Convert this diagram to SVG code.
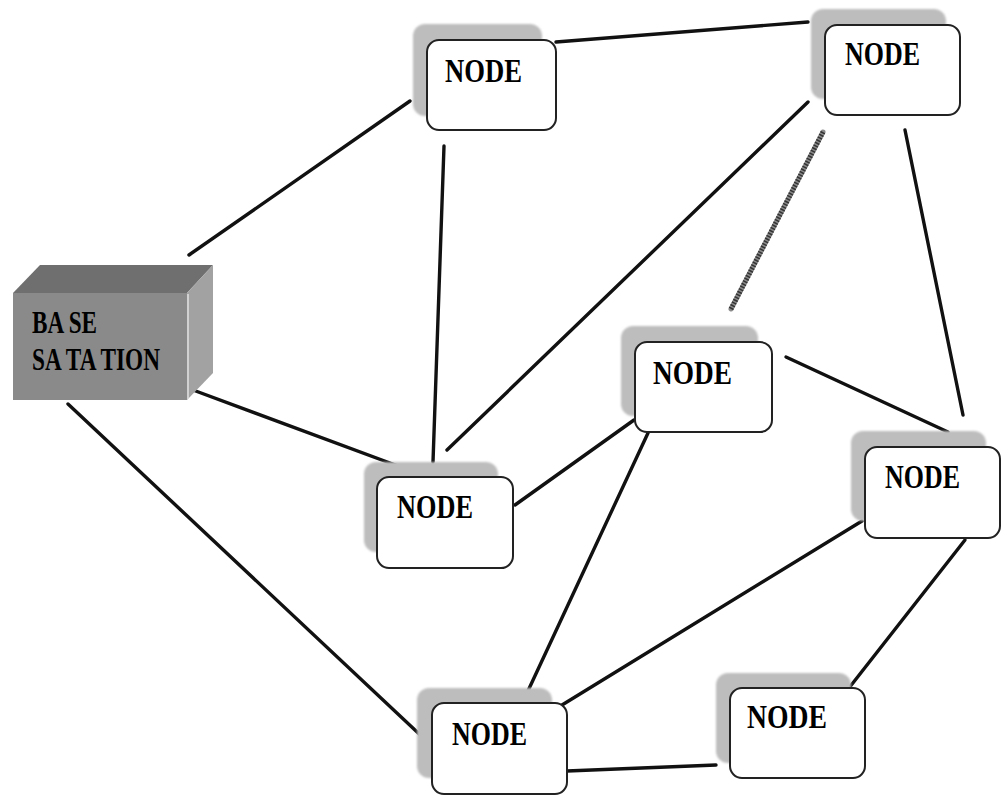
<svg xmlns="http://www.w3.org/2000/svg" width="1001" height="796" viewBox="0 0 1001 796">
  <style>
    .link { stroke: #111; stroke-width: 3.4; stroke-linecap: round; fill: none; }
    .shadow { fill: #bdbdbd; }
    .box { fill: #fff; stroke: #222; stroke-width: 2; }
    .label { font-family: "Liberation Serif", "Times New Roman", serif; font-size: 34px; font-weight: bold; fill: #000; }
    .bslabel { font-family: "Liberation Serif", "Times New Roman", serif; font-size: 32px; font-weight: bold; fill: #000; }
  </style>
  <defs>
    <filter id="soft" x="-10%" y="-10%" width="120%" height="120%">
      <feGaussianBlur stdDeviation="1.2"/>
    </filter>
  </defs>
  <rect width="1001" height="796" fill="#fff"/>

  <!-- connectors -->
  <g id="connectors">
    <line class="link" x1="189" y1="255" x2="410" y2="101"/>
    <line class="link" x1="556" y1="42" x2="808" y2="22"/>
    <line class="link" x1="444" y1="146" x2="433" y2="462"/>
    <line class="link" x1="808" y1="102" x2="447" y2="450"/>
    <line class="link" x1="905" y1="130" x2="963" y2="415"/>
    <line class="link" x1="786" y1="357" x2="948" y2="432"/>
    <line class="link" x1="193" y1="390" x2="425" y2="476"/>
    <line class="link" x1="515" y1="505" x2="634" y2="420"/>
    <line class="link" x1="648" y1="433" x2="527" y2="693"/>
    <line class="link" x1="862" y1="521" x2="562" y2="705"/>
    <line class="link" x1="965" y1="540" x2="838" y2="702"/>
    <line class="link" x1="68" y1="404" x2="432" y2="746"/>
    <line class="link" x1="567" y1="771" x2="716" y2="765"/>
    <!-- striped link -->
    <line x1="823" y1="132" x2="731" y2="309" stroke="#8a8a8a" stroke-width="5" stroke-linecap="round"/>
    <line x1="823" y1="132" x2="731" y2="309" stroke="#333" stroke-width="5" stroke-dasharray="1.5 1.5"/>
  </g>

  <!-- base station block -->
  <g id="base-station">
    <polygon points="13,293 40,265 213,265 187,293" fill="#6f6f6f"/>
    <polygon points="187,293 213,265 213,373 187,400" fill="#a2a2a2"/>
    <rect x="13" y="293" width="174" height="107" fill="#8a8a8a"/>
    <line x1="188" y1="294" x2="188" y2="399" stroke="#e0e0e0" stroke-width="1.5"/>
    <text class="bslabel" x="32" y="333" textLength="65" lengthAdjust="spacingAndGlyphs">BA SE</text>
    <text class="bslabel" x="32" y="370" textLength="128" lengthAdjust="spacingAndGlyphs">SA TA TION</text>
  </g>

  <g id="node-a">
    <rect class="shadow" x="413" y="24" width="129" height="92" rx="12" filter="url(#soft)"/>
    <rect class="box" x="427" y="40" width="129" height="90" rx="12"/>
    <text class="label" x="445" y="82" textLength="77" lengthAdjust="spacingAndGlyphs">NODE</text>
  </g>

  <g id="node-b">
    <rect class="shadow" x="811" y="9" width="135" height="90" rx="12" filter="url(#soft)"/>
    <rect class="box" x="825" y="25" width="135" height="90" rx="12"/>
    <text class="label" x="845" y="65" textLength="75" lengthAdjust="spacingAndGlyphs">NODE</text>
  </g>

  <g id="node-c">
    <rect class="shadow" x="621" y="326" width="137" height="90" rx="12" filter="url(#soft)"/>
    <rect class="box" x="635" y="342" width="137" height="90" rx="12"/>
    <text class="label" x="653" y="384" textLength="79" lengthAdjust="spacingAndGlyphs">NODE</text>
  </g>

  <g id="node-d">
    <rect class="shadow" x="364" y="462" width="134" height="90" rx="12" filter="url(#soft)"/>
    <rect class="box" x="377" y="477" width="136" height="91" rx="12"/>
    <text class="label" x="397" y="518" textLength="76" lengthAdjust="spacingAndGlyphs">NODE</text>
  </g>

  <g id="node-e">
    <rect class="shadow" x="851" y="431" width="135" height="90" rx="12" filter="url(#soft)"/>
    <rect class="box" x="865" y="447" width="135" height="91" rx="12"/>
    <text class="label" x="885" y="488" textLength="75" lengthAdjust="spacingAndGlyphs">NODE</text>
  </g>

  <g id="node-f">
    <rect class="shadow" x="716" y="673" width="135" height="90" rx="12" filter="url(#soft)"/>
    <rect class="box" x="730" y="688" width="135" height="90" rx="12"/>
    <text class="label" x="747" y="728" textLength="80" lengthAdjust="spacingAndGlyphs">NODE</text>
  </g>

  <g id="node-g">
    <rect class="shadow" x="417" y="688" width="135" height="90" rx="12" filter="url(#soft)"/>
    <rect class="box" x="432" y="703" width="135" height="91" rx="12"/>
    <text class="label" x="452" y="745" textLength="75" lengthAdjust="spacingAndGlyphs">NODE</text>
  </g>
</svg>
